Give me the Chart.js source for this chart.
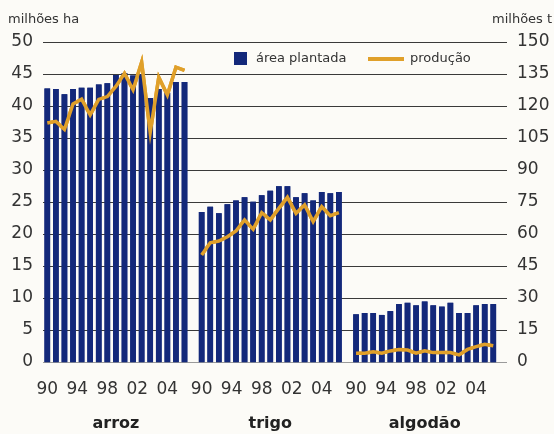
<!DOCTYPE html>
<html>
<head>
<meta charset="utf-8">
<script src="https://cdn.jsdelivr.net/npm/chart.js@4"></script>
<style>
  body { margin: 0; background: #fcfbf7; }
  #wrap { position: relative; width: 554px; height: 434px; font-family: "DejaVu Sans", sans-serif; color: #333; }
  canvas { position: absolute; left: 0; top: 0; }
  .unit { position: absolute; font-size: 13px; top: 11px; }
  .leg { position: absolute; font-size: 13px; top: 50px; }
  .sw { position: absolute; }
</style>
</head>
<body>
<div id="wrap">
  <canvas id="chart" width="554" height="434"></canvas>
  <div class="unit" style="left:8px">milhões ha</div>
  <div class="unit" style="left:492px">milhões t</div>
  <div class="sw" style="left:234px;top:52px;width:13px;height:13px;background:#13287a"></div>
  <div class="leg" style="left:256px">área plantada</div>
  <div class="sw" style="left:368px;top:57px;width:36px;height:4px;background:#e0a02a"></div>
  <div class="leg" style="left:410px">produção</div>
</div>
<script>
// 1990..2006, one bar per year
const groups = ['arroz', 'trigo', 'algodão'];
const groupStarts = [0, 18, 36];
const yearLabels = ['90', '94', '98', '02', '04'];
const yearOffsets = [0, 3.5, 7, 10.5, 14];

// área plantada (milhões ha)
const areaArroz = [42.7, 42.6, 41.8, 42.6, 42.8, 42.8, 43.3, 43.5, 44.8, 45.1, 44.7, 44.9, 41.2, 42.6, 42.0, 43.7, 43.7];
const areaTrigo = [23.4, 24.2, 23.2, 24.6, 25.2, 25.7, 25.0, 26.0, 26.7, 27.4, 27.4, 25.7, 26.3, 25.2, 26.5, 26.3, 26.5];
const areaAlgodao = [7.4, 7.6, 7.6, 7.3, 7.9, 9.0, 9.2, 8.8, 9.4, 8.8, 8.6, 9.2, 7.6, 7.6, 8.8, 9.0, 9.0];

// produção (milhões t)
const prodArroz = [112, 112.8, 109, 121, 123.2, 115.8, 123.1, 124.4, 129.2, 135.3, 127.6, 140.5, 107.7, 133.5, 125.2, 138.2, 136.7];
const prodTrigo = [50.2, 55.9, 56.7, 58.7, 61.4, 66.6, 62.2, 70, 66.6, 72, 77.2, 69.7, 73.6, 65.8, 72.8, 68.6, 70];
const prodAlgodao = [4.1, 4.1, 4.8, 4.1, 5.2, 5.9, 5.6, 4.1, 5.2, 4.4, 4.4, 4.4, 3.3, 5.9, 7.2, 8.3, 7.6];

function toPoints(series) {
  const pts = [];
  series.forEach((s, g) => {
    s.forEach((v, i) => pts.push({ x: groupStarts[g] + i, y: v }));
    pts.push({ x: groupStarts[g] + s.length, y: null });
  });
  return pts;
}

const areaPts = toPoints([areaArroz, areaTrigo, areaAlgodao]);
const prodPts = toPoints([prodArroz, prodTrigo, prodAlgodao]);

const yearTicks = {};
groupStarts.forEach(s => yearOffsets.forEach((o, i) => { yearTicks[s + o] = yearLabels[i]; }));
const groupTicks = {};
groupStarts.forEach((s, i) => { groupTicks[s + 8] = groups[i]; });

const tickColor = '#333';
const gridColor = '#3a3a3a';
const numFont = { family: 'DejaVu Sans', size: 17 };

// horizontal lines at each left-axis tick, then bars and line again on top
const hLines = {
  id: 'hLines',
  afterDatasetsDraw(chart) {
    const { ctx, chartArea, scales } = chart;
    const y = scales.y;
    ctx.save();
    ctx.lineWidth = 1;
    y.ticks.forEach(t => {
      const py = Math.round(y.getPixelForValue(t.value)) + 0.5;
      ctx.strokeStyle = t.value === 0 ? '#9a9a9a' : gridColor;
      ctx.beginPath();
      ctx.moveTo(chartArea.left, py);
      ctx.lineTo(chartArea.right, py);
      ctx.stroke();
    });
    ctx.restore();
    [1, 0].forEach(i => chart.getDatasetMeta(i).controller.draw());
  },
};

new Chart(document.getElementById('chart'), {
  type: 'bar',
  data: {
    datasets: [
      {
        type: 'line',
        label: 'produção',
        data: prodPts,
        yAxisID: 'y1',
        xAxisID: 'x',
        borderColor: '#e0a02a',
        borderWidth: 3.5,
        pointRadius: 0,
        tension: 0,
        spanGaps: false,
        order: 0,
      },
      {
        label: 'área plantada',
        data: areaPts,
        yAxisID: 'y',
        xAxisID: 'x',
        backgroundColor: '#13287a',
        barThickness: 5,
        order: 1,
      },
    ],
  },
  options: {
    responsive: false,
    animation: false,
    layout: { padding: { top: 42, left: 0, right: 0, bottom: 0 } },
    plugins: { legend: { display: false }, tooltip: { enabled: false } },
    scales: {
      x: {
        type: 'linear',
        position: 'bottom',
        min: -0.5,
        max: 53.6,
        offset: false,
        weight: 0,
        grid: { display: false, offset: false, drawTicks: false },
        border: { display: false },
        afterBuildTicks: axis => { axis.ticks = Object.keys(yearTicks).map(v => ({ value: Number(v) })); },
        afterFit: axis => { axis.height = 40; },
        ticks: {
          autoSkip: false,
          maxRotation: 0,
          padding: 17,
          color: tickColor,
          font: numFont,
          callback: v => yearTicks[v],
        },
      },
      xg: {
        type: 'linear',
        position: 'bottom',
        min: -0.5,
        max: 53.6,
        offset: false,
        weight: 1,
        grid: { display: false, offset: false, drawTicks: false },
        border: { display: false },
        afterBuildTicks: axis => { axis.ticks = Object.keys(groupTicks).map(v => ({ value: Number(v) })); },
        afterFit: axis => { axis.height = 32; },
        ticks: {
          autoSkip: false,
          maxRotation: 0,
          padding: 12,
          color: '#222',
          font: { family: 'DejaVu Sans', size: 16, weight: 'bold' },
          callback: v => groupTicks[v],
        },
      },
      y: {
        type: 'linear',
        position: 'left',
        min: 0,
        max: 50,
        afterFit: axis => { axis.width = 43; },
        grid: { display: false, drawTicks: false },
        border: { display: false },
        ticks: { stepSize: 5, padding: 10, color: tickColor, font: numFont },
      },
      y1: {
        type: 'linear',
        position: 'right',
        min: 0,
        max: 150,
        afterFit: axis => { axis.width = 47; },
        grid: { display: false, drawTicks: false },
        border: { display: false },
        ticks: { stepSize: 15, padding: 10, color: tickColor, font: numFont },
      },
    },
  },
  plugins: [hLines],
});
</script>
</body>
</html>
